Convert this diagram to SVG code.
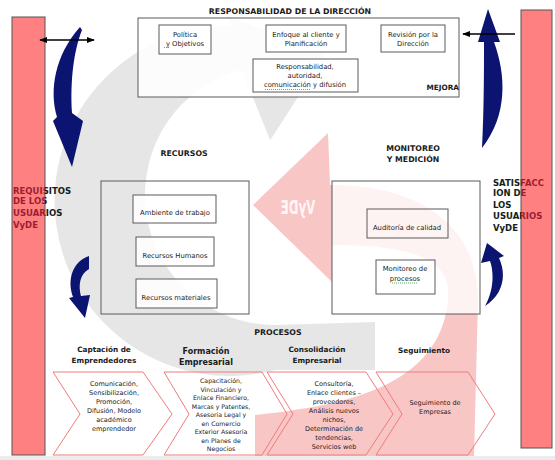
<svg xmlns="http://www.w3.org/2000/svg" width="555" height="460" viewBox="0 0 555 460">
<defs>
<style>
.t{font-family:"DejaVu Sans",Verdana,sans-serif;fill:#1a1a1a;text-anchor:middle}
.h{font-weight:bold;font-size:7.8px}
.b{font-size:6.8px}
.c{font-size:6.5px}
.c2{font-size:6.2px}
.ch{font-weight:bold;font-size:7.3px}
.side{font-family:"DejaVu Sans",Verdana,sans-serif;font-weight:bold;font-size:8.5px;fill:url(#sideFill)}
.box{fill:#fff;fill-opacity:0.85;stroke:#5a5a5a;stroke-width:1}
.frame{fill:none;stroke:#5a5a5a;stroke-width:1}
.chev{fill:none;stroke:#f27a7c;stroke-width:1}
.bar{fill:#ff8080;stroke:#555;stroke-width:1}
.navy{fill:#0b1470}
.squig{stroke:#2f9e3a;stroke-width:0.8;stroke-dasharray:1 1;fill:none}
.arr{stroke:#000;stroke-width:1.3;fill:none}
</style>
<linearGradient id="sideFill" gradientUnits="userSpaceOnUse" x1="0" y1="0" x2="555" y2="0">
<stop offset="0" stop-color="#9b1c31"/>
<stop offset="0.0811" stop-color="#9b1c31"/>
<stop offset="0.0811" stop-color="#1a1a1a"/>
<stop offset="0.9387" stop-color="#1a1a1a"/>
<stop offset="0.9387" stop-color="#9b1c31"/>
<stop offset="1" stop-color="#9b1c31"/>
</linearGradient>
<marker id="ah" viewBox="0 0 10 10" refX="9" refY="5" markerUnits="userSpaceOnUse" markerWidth="8" markerHeight="8" orient="auto-start-reverse">
<path d="M0,1 L10,5 L0,9 z" fill="#000"/>
</marker>
</defs>

<rect width="555" height="460" fill="#fff"/>

<g id="background">
<path d="M229.7,26 A175,175 0 1 0 275,370 L375,370 L375,322 L275,325 A130,130 0 0 1 241.4,69.4 L270.2,140.2 L327,52 L227.1,16.3 Z" fill="#e6e6e6"/>
<path d="M253,205 L328,133 L330,185 C420,185 478,225 478,300 L474,456 L255,456 L255,415 C350,405 440,385 448,300 C452,262 420,245 332,245 L332,282 Z" fill="#f9c6c6"/>
<text transform="translate(298,214) scale(-0.62,1)" text-anchor="middle" font-family="DejaVu Sans,Verdana,sans-serif" font-weight="bold" font-size="19" fill="#fff" fill-opacity="0.85">VyDE</text>
<rect x="0" y="456" width="555" height="4" fill="#ececec"/>
</g>

<g id="direccion">
<rect x="138" y="18" width="321" height="79" class="box" stroke="#666"/>
<text class="t h" x="290" y="13.5">RESPONSABILIDAD DE LA DIRECCIÓN</text>
<text class="t h" x="459" y="90" text-anchor="end" style="text-anchor:end;font-size:7.3px">MEJORA</text>
</g>
<g id="politica">
<rect x="159" y="25" width="52" height="29" class="box"/>
<text class="t b" x="185" y="36.5">Política<tspan x="185" dy="9">y Objetivos</tspan></text>
<path class="squig" d="M164,47.5 H169"/>
</g>
<g id="enfoque">
<rect x="266" y="25" width="80" height="27" class="box"/>
<text class="t b" x="306" y="36.5">Enfoque al cliente y<tspan x="306" dy="9">Planificación</tspan></text>
</g>
<g id="revision">
<rect x="381" y="25" width="64" height="27" class="box"/>
<text class="t b" x="413" y="36.5">Revisión por la<tspan x="413" dy="9">Dirección</tspan></text>
</g>
<g id="responsabilidad">
<rect x="253" y="59" width="105" height="33" class="box"/>
<text class="t b" x="305" y="69">Responsabilidad,<tspan x="305" dy="9.2">autoridad,</tspan><tspan x="305" dy="9.2">comunicación y difusión</tspan></text>
<path class="squig" d="M265,89.5 H310"/>
</g>

<g id="recursos">
<rect x="101" y="181" width="148" height="133" class="frame"/>
<text class="t h" x="184" y="156">RECURSOS</text>
</g>
<g id="ambiente">
<rect x="133" y="195" width="83" height="28" class="box"/>
<text class="t b" x="175" y="214.5">Ambiente de trabajo</text>
</g>
<g id="humanos">
<rect x="136" y="237" width="78" height="29" class="box"/>
<text class="t b" x="175" y="257.5">Recursos Humanos</text>
</g>
<g id="materiales">
<rect x="136" y="279" width="81" height="29" class="box"/>
<text class="t b" x="176" y="299.5">Recursos materiales</text>
</g>

<g id="monitoreo">
<rect x="332" y="181" width="148" height="133" fill="#fff" fill-opacity="0.78" stroke="#5a5a5a"/>
<text class="t h" x="413" y="151">MONITOREO<tspan x="413" dy="10.5">Y MEDICIÓN</tspan></text>
</g>
<g id="auditoria">
<rect x="367" y="209" width="81" height="29" fill="none" stroke="#5a5a5a"/>
<text class="t b" x="407" y="229.5">Auditoría de calidad</text>
</g>
<g id="procesos-box">
<rect x="376" y="260" width="59" height="34" class="box"/>
<text class="t b" x="405" y="270.5">Monitoreo de<tspan x="405" dy="10">procesos</tspan></text>
<path class="squig" d="M392,283 H418"/>
</g>

<g id="procesos">
<text class="t h" x="278" y="335">PROCESOS</text>
</g>
<g id="captacion">
<polygon class="chev" points="53,372 143,372 172,414 143,455 53,455 80,414"/>
<text class="t ch" x="104" y="352">Captación de<tspan x="104" dy="11">Emprendedores</tspan></text>
<text class="t c" x="114" y="385.5">Comunicación,<tspan x="114" dy="9">Sensibilización,</tspan><tspan x="114" dy="9">Promoción,</tspan><tspan x="114" dy="9">Difusión, Modelo</tspan><tspan x="114" dy="9">académico</tspan><tspan x="114" dy="9">emprendedor</tspan></text>
</g>
<g id="formacion">
<polygon class="chev" points="164,372 262,372 287,414 262,455 164,455 189,414"/>
<text class="t ch" x="206" y="354" style="font-size:8px">Formación<tspan x="206" dy="11">Empresarial</tspan></text>
<text class="t c2" x="221" y="383.3">Capacitación,<tspan x="221" dy="8.5">Vinculación y</tspan><tspan x="221" dy="8.5">Enlace Financiero,</tspan><tspan x="221" dy="8.5">Marcas y Patentes,</tspan><tspan x="221" dy="8.5">Asesoria Legal y</tspan><tspan x="221" dy="8.5">en Comercio</tspan><tspan x="221" dy="8.5">Exterior Asesoria</tspan><tspan x="221" dy="8.5">en Planes de</tspan><tspan x="221" dy="8.5">Negocios</tspan></text>
</g>
<g id="consolidacion">
<polygon class="chev" points="267,372 366,372 393,414 366,455 267,455 293,414"/>
<text class="t ch" x="317" y="352">Consolidación<tspan x="317" dy="11">Empresarial</tspan></text>
<text class="t c" x="334" y="385.5">Consultoría,<tspan x="334" dy="9">Enlace clientes –</tspan><tspan x="334" dy="9">proveedores,</tspan><tspan x="334" dy="9">Análisis nuevos</tspan><tspan x="334" dy="9">nichos,</tspan><tspan x="334" dy="9">Determinación de</tspan><tspan x="334" dy="9">tendencias,</tspan><tspan x="334" dy="9">Servicios web</tspan></text>
</g>
<g id="seguimiento">
<polygon class="chev" points="376,372 468,372 495,414 468,455 376,455 402,414"/>
<text class="t ch" x="424" y="353">Seguimiento</text>
<text class="t c" x="435" y="404.5">Seguimiento de<tspan x="435" dy="9">Empresas</tspan></text>
</g>

<g id="requisitos">
<rect x="12" y="17" width="33" height="438" class="bar"/>
<text class="side" x="13" y="193.5">REQUISITOS<tspan x="13" dy="10.5">DE LOS</tspan><tspan x="13" dy="12.3">USUARIOS</tspan><tspan x="13" dy="11.5">VyDE</tspan></text>
</g>
<g id="satisfaccion">
<rect x="521" y="10" width="31" height="438" class="bar"/>
<text class="side" x="493" y="185.5">SATISFACC<tspan x="493" dy="10.3">ION DE</tspan><tspan x="493" dy="12">LOS</tspan><tspan x="493" dy="11.6">USUARIOS</tspan><tspan x="493" dy="11.6">VyDE</tspan></text>
</g>

<g id="connectors">
<path class="navy" d="M80,27 L82,30 C74,50 70,80 72,113 L83,121 L72,167 L53,121 L57,117 C49,90 55,55 80,27 Z"/>
<path class="navy" d="M89,256 L89,269 C80,274 78,285 81,296 L90,295 L85,318 L69,298 L73,297 C67,280 72,262 89,256 Z"/>
<path class="navy" d="M488,9 L500,42 L494,42 C506,75 508,115 482,148 C484,110 484,70 484,42 L478,42 Z"/>
<path class="navy" d="M487,243 L504,256 L499,258 C507,275 503,295 485,306 C494,290 494,272 490,261 L481,263 Z"/>
<line class="arr" x1="40" y1="40" x2="94" y2="40" marker-start="url(#ah)" marker-end="url(#ah)"/>
<line class="arr" x1="515" y1="34" x2="463" y2="34" marker-end="url(#ah)"/>
</g>
</svg>
